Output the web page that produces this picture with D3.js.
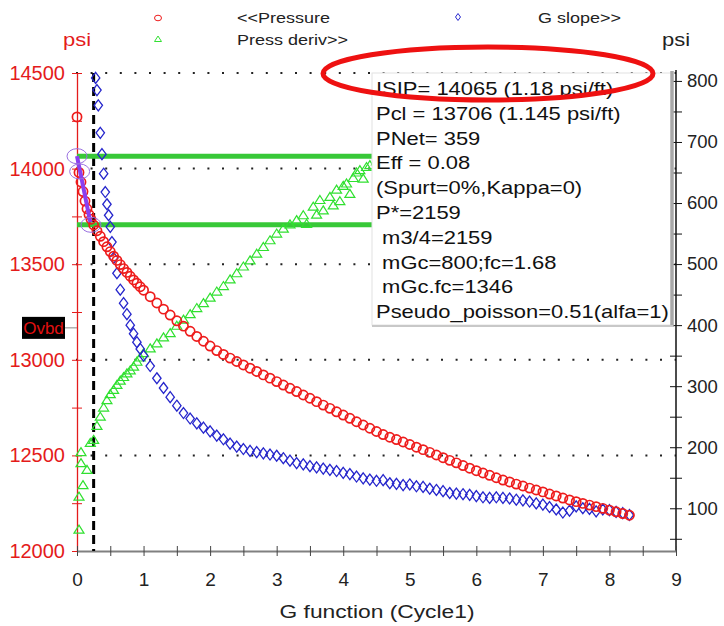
<!DOCTYPE html>
<html>
<head>
<meta charset="utf-8">
<script src="https://cdn.jsdelivr.net/npm/d3@7"></script>
<style>
  body { margin: 0; background: #fff; }
  svg { display: block; font-family: "Liberation Sans", Arial, sans-serif; }
</style>
</head>
<body>
<svg id="chart" width="724" height="626"></svg>
<script>
// ---- data ----
// G values shared by pressure and G slope after G = 1
const gSteps = [1.1, 1.2, 1.3, 1.4, 1.5, 1.6, 1.7, 1.8, 1.9, 2.0,
  2.1, 2.2, 2.3, 2.4, 2.5, 2.6, 2.7, 2.8, 2.9, 3.0,
  3.1, 3.2, 3.3, 3.4, 3.5, 3.6, 3.7, 3.8, 3.9, 4.0,
  4.1, 4.2, 4.3, 4.4, 4.5, 4.6, 4.7, 4.8, 4.9, 5.0,
  5.1, 5.2, 5.3, 5.4, 5.5, 5.6, 5.7, 5.8, 5.9, 6.0,
  6.1, 6.2, 6.3, 6.4, 6.5, 6.6, 6.7, 6.8, 6.9, 7.0,
  7.1, 7.2, 7.3, 7.4, 7.5, 7.6, 7.7, 7.8, 7.9, 8.0,
  8.1, 8.2, 8.3];

// <<Pressure (left axis, psi)
const pressG = [0, 0.03, 0.06, 0.09, 0.12, 0.15, 0.18, 0.21,
  0.25, 0.3, 0.35, 0.4, 0.45, 0.5, 0.55, 0.6, 0.65, 0.7, 0.75, 0.8, 0.85, 0.9, 0.95, 1.0].concat(gSteps);
const pressP = [14270, 13980, 13930, 13880, 13830, 13790, 13760, 13735,
  13705, 13675, 13646, 13618, 13591, 13566, 13542, 13520, 13498, 13477, 13457, 13437, 13418, 13400, 13382, 13364,
  13330, 13297, 13265, 13234, 13204, 13176, 13149, 13122, 13097, 13072,
  13048, 13028, 13009, 12991, 12973, 12956, 12939, 12921, 12904, 12886,
  12868, 12851, 12834, 12816, 12799, 12781, 12763, 12746, 12728, 12711,
  12694, 12676, 12659, 12642, 12625, 12609, 12595, 12583, 12570, 12557,
  12543, 12530, 12516, 12502, 12488, 12474, 12461, 12447, 12433, 12420,
  12408, 12396, 12383, 12371, 12361, 12350, 12340, 12329, 12319, 12309,
  12298, 12288, 12277, 12267, 12258, 12249, 12240, 12232, 12223, 12214,
  12205, 12196, 12187];

// G slope>> (right axis)
const slopeG = [0.28, 0.30, 0.32, 0.35, 0.375, 0.40, 0.425, 0.45, 0.475, 0.50, 0.525,
  0.55, 0.6, 0.65, 0.7, 0.75, 0.8, 0.85, 0.9, 0.95, 1.0].concat(gSteps);
const slopeV = [805, 785, 760, 715, 680, 648, 618, 598, 580, 561, 536,
  510, 485, 458, 436, 418, 400, 386, 372, 361, 350,
  333, 313, 297, 282, 268, 256, 247, 239, 232, 226,
  219, 213, 206, 201, 197, 194, 192, 190, 188, 186,
  182, 178, 174, 172, 169, 167, 165, 163, 161, 158,
  156, 152, 149, 147, 145, 146, 141, 140, 138, 139,
  136, 135, 132, 130, 128, 125, 124, 123, 122, 120,
  118, 117, 118, 117, 116, 114, 113, 111, 108, 106,
  102, 98, 93, 96, 103, 100, 99, 95, 98, 97,
  94, 92, 89];

// Press deriv>> (right axis)
const derivG = [0.03, 0.03, 0.09, 0.15, 0.06, 0.06, 0.2,
  0.25, 0.3, 0.35, 0.4, 0.45, 0.5, 0.55, 0.6, 0.65, 0.7, 0.75, 0.8, 0.85, 0.9, 0.95, 1.0,
  1.1, 1.2, 1.3, 1.4, 1.5, 1.6, 1.7, 1.8, 1.9, 2.0,
  2.1, 2.2, 2.3, 2.4, 2.5, 2.6, 2.7, 2.8, 2.9, 3.0,
  3.1, 3.2, 3.3, 3.4, 3.45, 3.55, 3.6, 3.65, 3.7, 3.8, 3.85, 3.9, 3.95, 4.0,
  4.05, 4.1, 4.15, 4.2, 4.25, 4.3, 4.35, 4.4, 4.5, 4.6, 4.7, 4.8, 5.0];
const derivV = [65, 119, 138, 163, 174, 192, 207,
  212, 235, 250, 265, 277, 287, 294, 302, 309, 315, 321, 326, 332, 340, 347, 354,
  362, 370, 380, 387, 399, 409, 418, 428, 436, 445,
  455, 464, 475, 485, 496, 506, 517, 528, 539, 550,
  558, 565, 572, 580, 566, 594, 581, 605, 588, 610, 596, 622, 603, 628,
  632, 615, 641, 650, 654, 640, 659, 662, 668, 676, 684, 690, 700];

const leftTicks = [12000, 12250, 12500, 12750, 13000, 13250, 13500, 13750, 14000, 14250, 14500];
const leftLabels = [12000, 12500, 13000, 13500, 14000, 14500];
const rightTicks = [50, 100, 150, 200, 250, 300, 350, 400, 450, 500, 550, 600, 650, 700, 750, 800];
const rightLabels = [100, 200, 300, 400, 500, 600, 700, 800];
const xTicks = [0, 0.5, 1, 1.5, 2, 2.5, 3, 3.5, 4, 4.5, 5, 5.5, 6, 6.5, 7, 7.5, 8, 8.5, 9];
const xLabels = [0, 1, 2, 3, 4, 5, 6, 7, 8, 9];

const isip = 14065;
const pcl = 13706;
const ovbd = 13167;
const closureG = 0.25;
const fitLine = [[0, 14065], [0.2, 13720]];
const fitMarks = [[0, 14065], [0.04, 13985], [0.21, 13706]];

const infoLines = ['ISIP= 14065 (1.18 psi/ft)', 'Pcl = 13706 (1.145 psi/ft)', 'PNet= 359',
  'Eff = 0.08', '(Spurt=0%,Kappa=0)', 'P*=2159', ' m3/4=2159', ' mGc=800;fc=1.68',
  ' mGc.fc=1346', 'Pseudo_poisson=0.51(alfa=1)'];

// ---- drawing ----
const red = '#e41b1b';
const svg = d3.select('#chart');

const x = d3.scaleLinear().domain([0, 9]).range([77, 676]);
const yL = d3.scaleLinear().domain([12000, 14500]).range([551, 73]);
const yR = d3.scaleLinear().domain([30, 813]).range([551, 73]);

svg.append('rect').attr('width', 724).attr('height', 626).attr('fill', '#fff');

// scaled text helper (the picture is a little stretched sideways)
function label(txt, px, py, size, sx, color, anchor) {
  let g = svg.append('g').attr('transform', `translate(${px},${py}) scale(${sx},1)`);
  return g.append('text').text(txt)
    .attr('font-size', size)
    .attr('fill', color)
    .attr('text-anchor', anchor || 'start')
    .style('white-space', 'pre');
}

// dotted grid
svg.append('g').selectAll('line').data(leftLabels.filter(d => d > 12000)).join('line')
  .attr('x1', x(0) - 1).attr('x2', x(9))
  .attr('y1', d => yL(d)).attr('y2', d => yL(d))
  .attr('stroke', '#222').attr('stroke-width', 2)
  .attr('stroke-dasharray', '2,12.6');

// left axis
const leftAxis = svg.append('g').attr('transform', `translate(${x(0)},0)`)
  .call(d3.axisLeft(yL).tickValues(leftTicks).tickSizeOuter(0)
    .tickFormat(d => leftLabels.includes(d) ? d : ''));
leftAxis.select('.domain').attr('stroke', red).attr('stroke-width', 1.3);
leftAxis.selectAll('.tick line').attr('stroke', red).attr('x1', 5).attr('x2', -5);
leftAxis.selectAll('.tick text').attr('x', -12).attr('fill', red)
  .attr('font-size', 20).attr('font-family', '"Liberation Sans", Arial, sans-serif');

// right axis
const rightAxis = svg.append('g').attr('transform', `translate(${x(9)},0)`)
  .call(d3.axisRight(yR).tickValues(rightTicks).tickSizeOuter(0)
    .tickFormat(d => rightLabels.includes(d) ? d : ''));
rightAxis.select('.domain').attr('stroke', '#111').attr('stroke-width', 1.5)
  .attr('d', `M0,${yR.range()[0]}V70`);
rightAxis.selectAll('.tick line').attr('stroke', '#111').attr('x1', -6).attr('x2', 6);
rightAxis.selectAll('.tick text').attr('x', 11).attr('fill', '#222')
  .attr('font-size', 18.5).attr('font-family', '"Liberation Sans", Arial, sans-serif');

// bottom axis
const bottomAxis = svg.append('g').attr('transform', `translate(0,${yL(12000)})`)
  .call(d3.axisBottom(x).tickValues(xTicks).tickSizeOuter(0)
    .tickFormat(d => xLabels.includes(d) ? d : ''));
bottomAxis.select('.domain').attr('stroke', '#808080').attr('stroke-width', 2);
bottomAxis.selectAll('.tick line').attr('stroke', '#444').attr('y1', -5).attr('y2', 5);
bottomAxis.selectAll('.tick text').attr('y', 28).attr('dy', '0.35em').attr('fill', '#222')
  .attr('font-size', 19).attr('font-family', '"Liberation Sans", Arial, sans-serif');

// closure line
svg.append('line')
  .attr('x1', x(closureG)).attr('x2', x(closureG))
  .attr('y1', yL(14500)).attr('y2', yL(12000))
  .attr('stroke', '#000').attr('stroke-width', 3).attr('stroke-dasharray', '9,5');

// ISIP / Pcl levels
svg.append('g').selectAll('line').data([isip, pcl]).join('line')
  .attr('x1', x(0)).attr('x2', x(5))
  .attr('y1', d => yL(d)).attr('y2', d => yL(d))
  .attr('stroke', '#38c838').attr('stroke-width', 5);

// press deriv triangles
svg.append('g').selectAll('path').data(derivG).join('path')
  .attr('transform', (d, i) => `translate(${x(d)},${yR(derivV[i])})`)
  .attr('d', 'M0,-4.5L5,3.5L-5,3.5Z')
  .attr('fill', 'none').attr('stroke', '#30e030').attr('stroke-width', 1.2);

// G slope diamonds
svg.append('g').selectAll('path').data(slopeG).join('path')
  .attr('transform', (d, i) => `translate(${x(d)},${yR(slopeV[i])})`)
  .attr('d', 'M0,-5.5L4.2,0L0,5.5L-4.2,0Z')
  .attr('fill', 'none').attr('stroke', '#2626cc').attr('stroke-width', 1.3);

// pressure circles
svg.append('g').selectAll('circle').data(pressG).join('circle')
  .attr('cx', d => x(d))
  .attr('cy', (d, i) => yL(pressP[i]))
  .attr('r', 4.6)
  .attr('fill', 'none').attr('stroke', '#ee1c1c').attr('stroke-width', 1.7);

// ISIP fit
svg.append('path')
  .attr('d', d3.line().x(d => x(d[0])).y(d => yL(d[1]))(fitLine))
  .attr('stroke', '#8a3ff0').attr('stroke-width', 4).attr('fill', 'none');
svg.append('g').selectAll('ellipse').data(fitMarks).join('ellipse')
  .attr('cx', d => x(d[0])).attr('cy', d => yL(d[1]))
  .attr('rx', 10).attr('ry', 7.5)
  .attr('fill', 'none').attr('stroke', '#9a70e0').attr('stroke-width', 1);

// info box
svg.append('rect').attr('x', 372).attr('y', 73).attr('width', 300).attr('height', 252)
  .attr('fill', '#fff').attr('stroke', '#e2e2e2').attr('stroke-width', 1);
svg.append('line').attr('x1', 672).attr('x2', 672).attr('y1', 71).attr('y2', 327)
  .attr('stroke', '#a8a8a8').attr('stroke-width', 3.5);
svg.append('line').attr('x1', 372).attr('x2', 673).attr('y1', 326).attr('y2', 326)
  .attr('stroke', '#c8c8c8').attr('stroke-width', 2);
infoLines.forEach((t, i) => {
  label(t, 376, 95 + i * 24.8, 18, 1.22, '#111');
});

// red highlight ellipse
svg.append('ellipse').attr('cx', 488).attr('cy', 73.5).attr('rx', 165).attr('ry', 26.5)
  .attr('fill', 'none').attr('stroke', '#ee1111').attr('stroke-width', 5);

// legend
svg.append('ellipse').attr('cx', 158).attr('cy', 18).attr('rx', 3.5).attr('ry', 2.8)
  .attr('fill', 'none').attr('stroke', '#ee1c1c').attr('stroke-width', 1);
svg.append('path').attr('transform', 'translate(458,17)').attr('d', 'M0,-3.5L2.5,0L0,3.5L-2.5,0Z')
  .attr('fill', 'none').attr('stroke', '#2a2ad0').attr('stroke-width', 1);
svg.append('path').attr('transform', 'translate(158,39)').attr('d', 'M0,-3L3.5,2.5L-3.5,2.5Z')
  .attr('fill', 'none').attr('stroke', '#33e033').attr('stroke-width', 1);
label('<<Pressure', 237, 23, 15, 1.2, '#222');
label('G slope>>', 538, 23, 15, 1.2, '#222');
label('Press deriv>>', 237, 45, 15, 1.2, '#222');
label('psi', 63, 46, 18, 1.22, red);
label('psi', 662, 46, 18, 1.22, '#222');

// overburden marker
svg.append('line').attr('x1', 64).attr('x2', x(0)).attr('y1', yL(ovbd)).attr('y2', yL(ovbd))
  .attr('stroke', '#888').attr('stroke-width', 1);
svg.append('rect').attr('x', 22).attr('y', yL(ovbd) - 11).attr('width', 43).attr('height', 22)
  .attr('fill', '#000');
svg.append('text').text('Ovbd').attr('x', 43.5).attr('y', yL(ovbd)).attr('dy', '0.35em')
  .attr('text-anchor', 'middle').attr('font-size', 17).attr('fill', '#e01010');

// x title
label('G function (Cycle1)', 377, 618, 19, 1.2, '#222', 'middle');
</script>
</body>
</html>
